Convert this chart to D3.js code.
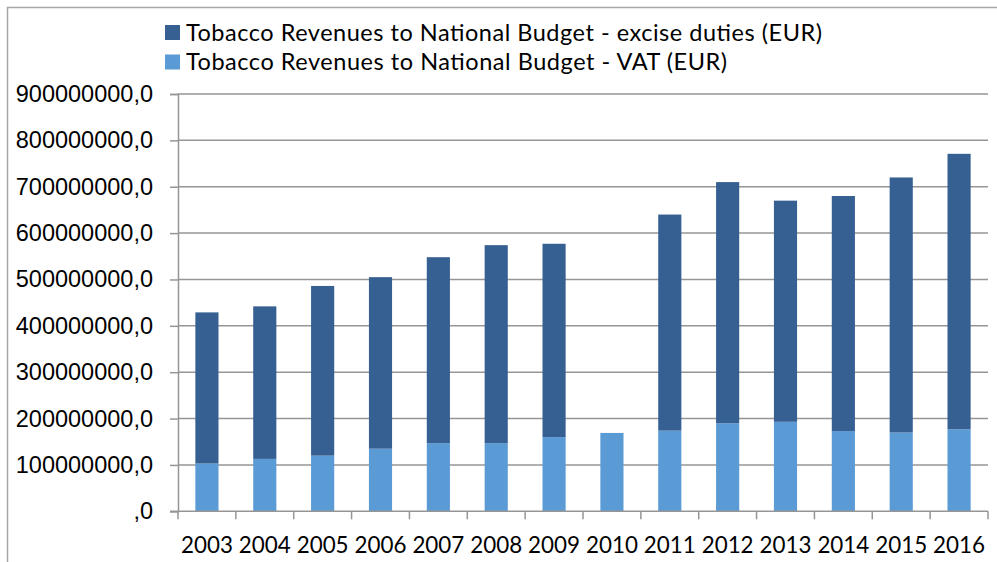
<!DOCTYPE html>
<html>
<head>
<meta charset="utf-8">
<script src="https://cdn.jsdelivr.net/npm/d3@7"></script>
<style>
  html, body { margin: 0; padding: 0; background: #fff; }
  svg { display: block; font-family: Lato, "Open Sans", sans-serif; }
</style>
</head>
<body>
<svg id="chart" width="997" height="562"></svg>
<script>
// Tobacco revenues to the national budget, by year (EUR)
const years = ["2003","2004","2005","2006","2007","2008","2009","2010","2011","2012","2013","2014","2015","2016"];
const vat    = [103e6, 113e6, 120e6, 135e6, 147e6, 147e6, 160e6, 169e6, 174e6, 190e6, 193e6, 173e6, 170e6, 177e6];
const excise = [326e6, 329e6, 366e6, 370e6, 401e6, 427e6, 417e6, 0,     466e6, 520e6, 477e6, 507e6, 550e6, 594e6];
const yTicks = [0, 1e8, 2e8, 3e8, 4e8, 5e8, 6e8, 7e8, 8e8, 9e8];
const seriesNames = ["Tobacco Revenues to National Budget - excise duties (EUR)",
                     "Tobacco Revenues to National Budget - VAT (EUR)"];
const colors = { excise: "#366092", vat: "#5b9bd5" };

const svg = d3.select("#chart");
const margin = { left: 178, right: 988, top: 94, bottom: 511.3 };

// outer chart frame
svg.append("rect")
  .attr("x", 7.5).attr("y", 7.5).attr("width", 1000).attr("height", 600)
  .attr("fill", "none").attr("stroke", "#a6a6a6").attr("stroke-width", 1.5);

const x = d3.scaleBand().domain(years).range([margin.left, margin.right]).paddingInner(0.6).paddingOuter(0.3);
const y = d3.scaleLinear().domain([0, 9e8]).range([margin.bottom, margin.top]);

const fmt = v => v === 0 ? ",0" : d3.format("d")(v) + ",0";

// horizontal gridlines and y axis
const yAxis = d3.axisLeft(y).tickValues(yTicks).tickFormat(fmt).tickSize(8).tickPadding(17);
const gy = svg.append("g").attr("transform", `translate(${margin.left},0)`).call(yAxis);
gy.select(".domain").attr("stroke", "#969696").attr("stroke-width", 1.5);
gy.selectAll(".tick line").attr("stroke", "#969696").attr("stroke-width", 1.5);
gy.selectAll(".tick text").attr("font-size", "23.5px").attr("fill", "#000");

svg.append("g").selectAll("line").data(yTicks.filter(d => d > 0)).join("line")
  .attr("x1", margin.left).attr("x2", margin.right)
  .attr("y1", d => y(d)).attr("y2", d => y(d))
  .attr("stroke", "#969696").attr("stroke-width", 1.5);

// stacked bars: VAT at the base, excise on top
const rows = years.map((yr, i) => ({ year: yr, vat: vat[i], excise: excise[i] }));
const stack = d3.stack().keys(["vat", "excise"])(rows);
svg.append("g").selectAll("g").data(stack).join("g")
  .attr("fill", d => colors[d.key])
  .selectAll("rect").data(d => d).join("rect")
    .attr("x", d => x(d.data.year))
    .attr("width", x.bandwidth())
    .attr("y", d => y(d[1]))
    .attr("height", d => y(d[0]) - y(d[1]));

// x axis with category separators
const gx = svg.append("g").attr("transform", `translate(0,${margin.bottom})`);
gx.append("line").attr("x1", margin.left - 8).attr("x2", margin.right)
  .attr("stroke", "#969696").attr("stroke-width", 1.5);
const sepPos = d3.range(years.length + 1).map(i => margin.left + i * (margin.right - margin.left) / years.length);
gx.selectAll("line.sep").data(sepPos).join("line").attr("class", "sep")
  .attr("x1", d => d).attr("x2", d => d).attr("y1", 0).attr("y2", 8)
  .attr("stroke", "#969696").attr("stroke-width", 1.5);
gx.selectAll("text").data(years).join("text")
  .attr("x", d => x(d) + x.bandwidth() / 2).attr("y", 42)
  .attr("text-anchor", "middle").attr("font-size", "22.4px").attr("fill", "#000")
  .text(d => d);

// legend
const legendWidths = [636, 541];
const legend = svg.append("g");
[["excise", 0], ["vat", 1]].forEach(([key, i]) => {
  const ly = 25 + i * 29.5;
  legend.append("rect").attr("x", 165).attr("y", ly).attr("width", 15).attr("height", 15).attr("fill", colors[key]);
  legend.append("text").attr("x", 186).attr("y", ly + 7.5).attr("dy", "0.35em")
    .attr("font-size", "23.5px").attr("fill", "#000")
    .attr("textLength", legendWidths[i]).attr("lengthAdjust", "spacing")
    .text(seriesNames[i]);
});
</script>
</body>
</html>
